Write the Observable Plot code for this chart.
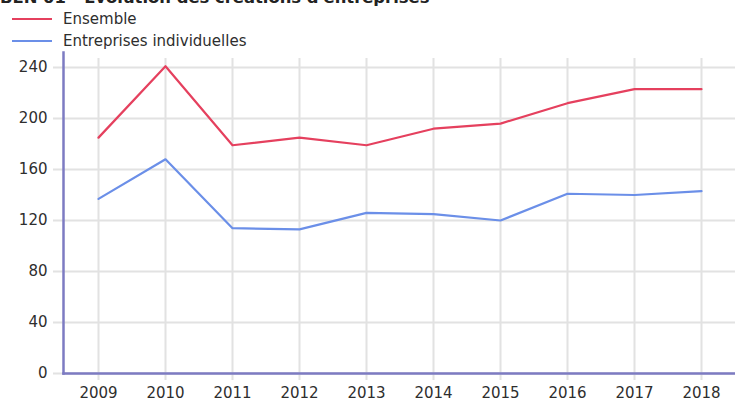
<!DOCTYPE html>
<html>
<head>
<meta charset="utf-8">
<script src="https://cdn.jsdelivr.net/npm/d3@7"></script>
<script src="https://cdn.jsdelivr.net/npm/@observablehq/plot@0.6"></script>
<style>
  html, body { margin: 0; padding: 0; background: #fff; overflow: hidden; }
  #wrap { position: relative; width: 735px; height: 401px; font-family: "DejaVu Sans", sans-serif; }
  #title { position: absolute; left: 0; top: -12px; font-weight: bold; font-size: 16.4px; line-height: 19px; color: #222; white-space: nowrap; z-index: 2; }
  .leg { position: absolute; left: 12px; font-size: 15px; line-height: 18px; color: #2e2e2e; display: flex; align-items: center; z-index: 2; }
  .leg .sw { width: 40px; height: 2px; margin-right: 11px; }
  #chart { position: absolute; left: 0; top: 0; }
</style>
</head>
<body>
<div id="wrap">
  <div id="title"></div>
  <div id="legend"></div>
  <div id="chart"></div>
</div>
<script>
const title = "BEN 01 - Évolution des créations d'entreprises";
const years = ["2009","2010","2011","2012","2013","2014","2015","2016","2017","2018"];
const seriesNames = ["Ensemble", "Entreprises individuelles"];
const ensemble = [185, 241, 179, 185, 179, 192, 196, 212, 223, 223];
const individuelles = [137, 168, 114, 113, 126, 125, 120, 141, 140, 143];
const yTicks = [0, 40, 80, 120, 160, 200, 240];
const colors = ["#e5405e", "#6b8fe8"];

document.getElementById("title").textContent = title;
const legend = document.getElementById("legend");
seriesNames.forEach((name, i) => {
  const row = document.createElement("div");
  row.className = "leg";
  row.style.top = (10 + i * 22) + "px";
  const sw = document.createElement("span");
  sw.className = "sw";
  sw.style.background = colors[i];
  row.appendChild(sw);
  const t = document.createElement("span");
  t.textContent = name;
  row.appendChild(t);
  legend.appendChild(row);
});

const data = [];
years.forEach((y, i) => {
  data.push({year: y, value: ensemble[i], series: seriesNames[0]});
  data.push({year: y, value: individuelles[i], series: seriesNames[1]});
});

const axisColor = "#7d7bc2";
const gridColor = "#e2e2e2";

const plot = Plot.plot({
  width: 735,
  height: 401,
  marginTop: 58,
  marginLeft: 63,
  marginRight: 0,
  marginBottom: 28,
  style: {fontFamily: "DejaVu Sans, sans-serif", fontSize: "15px", color: "#2e2e2e", background: "transparent"},
  x: {type: "point", domain: years, padding: 0.5, label: null},
  y: {domain: [0, 240], insetTop: 9, label: null},
  color: {domain: seriesNames, range: colors},
  marks: [
    Plot.gridY(yTicks, {stroke: gridColor, strokeOpacity: 1, strokeWidth: 2, insetLeft: -10}),
    Plot.gridX(years, {stroke: gridColor, strokeOpacity: 1, strokeWidth: 2, insetBottom: -7}),
    Plot.axisY(yTicks, {tickSize: 0, tickPadding: 16, fill: "#2e2e2e"}),
    Plot.axisX(years, {tickSize: 0, tickPadding: 14, fill: "#2e2e2e"}),
    Plot.frame({anchor: "left", stroke: axisColor, strokeWidth: 2.5, insetTop: -6}),
    Plot.frame({anchor: "bottom", stroke: axisColor, strokeWidth: 2.5}),
    Plot.line(data, {x: "year", y: "value", z: "series", stroke: "series", strokeWidth: 2.2})
  ]
});
document.getElementById("chart").appendChild(plot);
</script>
</body>
</html>
